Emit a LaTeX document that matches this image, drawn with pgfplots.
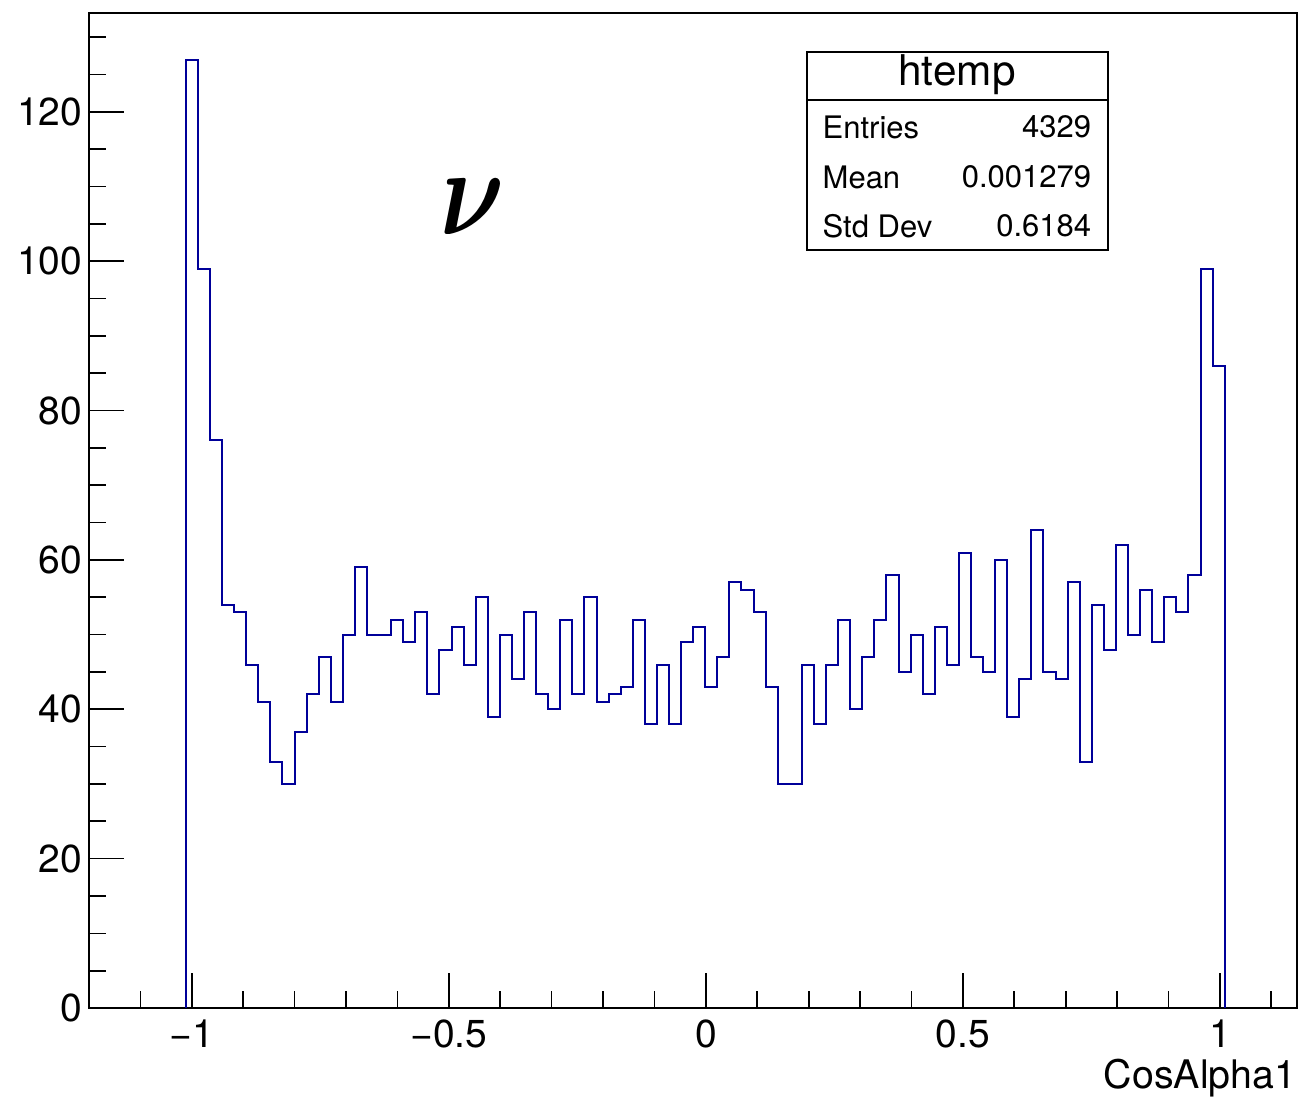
\documentclass[border=0pt]{standalone}
\usepackage{bm}
\usepackage{graphicx}
\usepackage{fontspec}
\setmainfont{TeX Gyre Heros}
\usepackage{pgfplots}
\pgfplotsset{compat=1.18}
\definecolor{rootblue}{rgb}{0,0,0.6}
\begin{document}
\begin{tikzpicture}
\begin{axis}[name=ax, scale only axis, width=362.4pt, height=298.5pt,
  xmin=-1.2, xmax=1.15, ymin=0, ymax=133.25,
  axis line style={line width=0.6pt},
  tick align=inside, tick pos=left,
  xtick={-1,-0.5,0,0.5,1}, xticklabels={−1,−0.5,0,0.5,1},
  minor xtick={-1.1,-0.9,-0.8,-0.7,-0.6,-0.4,-0.3,-0.2,-0.1,0.1,0.2,0.3,0.4,0.6,0.7,0.8,0.9,1.1},
  ytick={0,20,40,60,80,100,120}, yticklabels={0,20,40,60,80,100,120},
  minor ytick={5,10,15,25,30,35,45,50,55,65,70,75,85,90,95,105,110,115,125,130},
  major tick length=10.5pt, minor tick length=5pt,
  tick style={black, line width=0.5pt},
  ticklabel style={font=\fontsize{11.7}{14}\selectfont},
  yticklabel style={xshift=1.5pt},
  xlabel={CosAlpha1},
  xlabel style={at={(rel axis cs:1,0)}, anchor=base east, inner sep=0pt, yshift=-24pt, font=\fontsize{11.8}{14}\selectfont},
]
\addplot[rootblue, line width=0.6pt, const plot] table {
x y
-1.0117 0
-1.0117 127
-0.9882 99
-0.9647 76
-0.9412 54
-0.9177 53
-0.8942 46
-0.8707 41
-0.8472 33
-0.8237 30
-0.8002 37
-0.7767 42
-0.7532 47
-0.7297 41
-0.7062 50
-0.6827 59
-0.6592 50
-0.6357 50
-0.6122 52
-0.5887 49
-0.5652 53
-0.5417 42
-0.5182 48
-0.4947 51
-0.4712 46
-0.4477 55
-0.4242 39
-0.4007 50
-0.3772 44
-0.3537 53
-0.3302 42
-0.3067 40
-0.2832 52
-0.2597 42
-0.2362 55
-0.2127 41
-0.1892 42
-0.1657 43
-0.1422 52
-0.1187 38
-0.0952 46
-0.0717 38
-0.0482 49
-0.0247 51
-0.0012 43
0.0223 47
0.0458 57
0.0693 56
0.0928 53
0.1163 43
0.1398 30
0.1633 30
0.1868 46
0.2103 38
0.2338 46
0.2573 52
0.2808 40
0.3043 47
0.3278 52
0.3513 58
0.3748 45
0.3983 50
0.4218 42
0.4453 51
0.4688 46
0.4923 61
0.5158 47
0.5393 45
0.5628 60
0.5863 39
0.6098 44
0.6333 64
0.6568 45
0.6803 44
0.7038 57
0.7273 33
0.7508 54
0.7743 48
0.7978 62
0.8213 50
0.8448 56
0.8683 49
0.8918 55
0.9153 53
0.9388 58
0.9623 99
0.9858 86
1.0093 86
1.0093 0
};
\draw[line width=0.5pt, fill=white] (rel axis cs:0.5944,0.7618) rectangle (rel axis cs:0.8435,0.9608);
\draw[line width=0.5pt] (rel axis cs:0.5944,0.9126) -- (rel axis cs:0.8435,0.9126);
\node[font=\fontsize{12.7}{14}\selectfont] at (rel axis cs:0.7185,0.9377) {htemp};
\node[font=\fontsize{9.3}{11}\selectfont, anchor=west, inner sep=0pt] at (rel axis cs:0.6068,0.8854) {Entries};
\node[font=\fontsize{9.3}{11}\selectfont, anchor=east, inner sep=0pt] at (rel axis cs:0.8301,0.8854) {4329};
\node[font=\fontsize{9.3}{11}\selectfont, anchor=west, inner sep=0pt] at (rel axis cs:0.6068,0.8352) {Mean};
\node[font=\fontsize{9.3}{11}\selectfont, anchor=east, inner sep=0pt] at (rel axis cs:0.8301,0.8352) {0.001279};
\node[font=\fontsize{9.3}{11}\selectfont, anchor=west, inner sep=0pt] at (rel axis cs:0.6068,0.7859) {Std Dev};
\node[font=\fontsize{9.3}{11}\selectfont, anchor=east, inner sep=0pt] at (rel axis cs:0.8301,0.7859) {0.6184};
\node[font=\fontsize{24.88}{30}\selectfont, anchor=base, inner sep=0pt] at (rel axis cs:0.3179,0.7769) {\scalebox{1.2}[1.5]{$\bm{\nu}$}};
\end{axis}
\path ([shift={(-26.7pt,-26.7pt)}]ax.south west) rectangle ([shift={(0.6pt,3.9pt)}]ax.north east);
\end{tikzpicture}
\end{document}
